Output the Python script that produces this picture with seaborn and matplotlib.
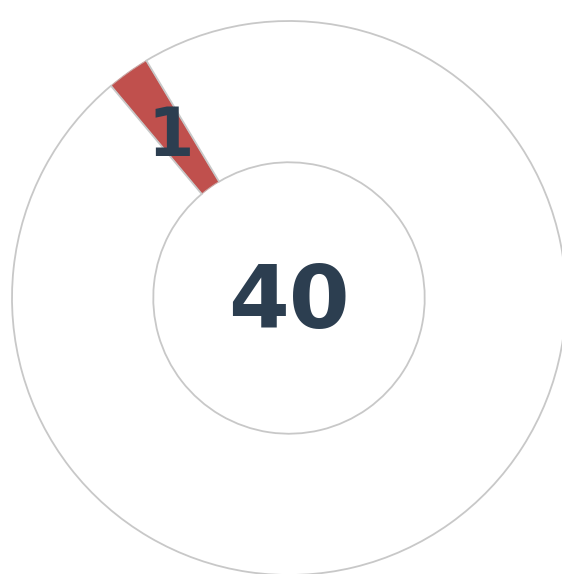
import numpy as np
import seaborn as sns
import matplotlib.pyplot as plt

# donut data: one highlighted slice out of the total
categories = ["highlight", "rest"]
values = [1, 39]
slice_colors = ["#c0504d", "#ffffff"]

sns.set_theme(style="white")

fig = plt.figure(figsize=(5.62, 5.74), dpi=100)
ax = fig.add_axes([0, 0, 1, 1])

wedges, _ = ax.pie(values, colors=slice_colors, startangle=121, counterclock=True,
                   radius=1.0,
                   wedgeprops=dict(width=0.51, edgecolor="#c8c8c8", linewidth=1.3))

# keep the red slice edge soft
wedges[0].set_edgecolor("#c9a8a6")
wedges[0].set_linewidth(0.8)

# label the highlighted slice in the middle of the ring
w = wedges[0]
mid = np.deg2rad((w.theta1 + w.theta2) / 2)
r_lab = 1.0 - 0.51 / 2
ax.text(r_lab * np.cos(mid) + 0.005, r_lab * np.sin(mid) - 0.025, str(values[0]),
        ha="center", va="center", fontsize=48, fontweight="bold", color="#2c3e50")

# total in the centre
ax.text(0, -0.022, str(sum(values)), ha="center", va="center",
        fontsize=63, fontweight="bold", color="#2c3e50")

ax.set_xlim(-289 / 277, (562 - 289) / 277)
ax.set_ylim(-276 / 277, 298 / 277)
ax.axis("off")

fig.savefig("out.png", dpi=100)
